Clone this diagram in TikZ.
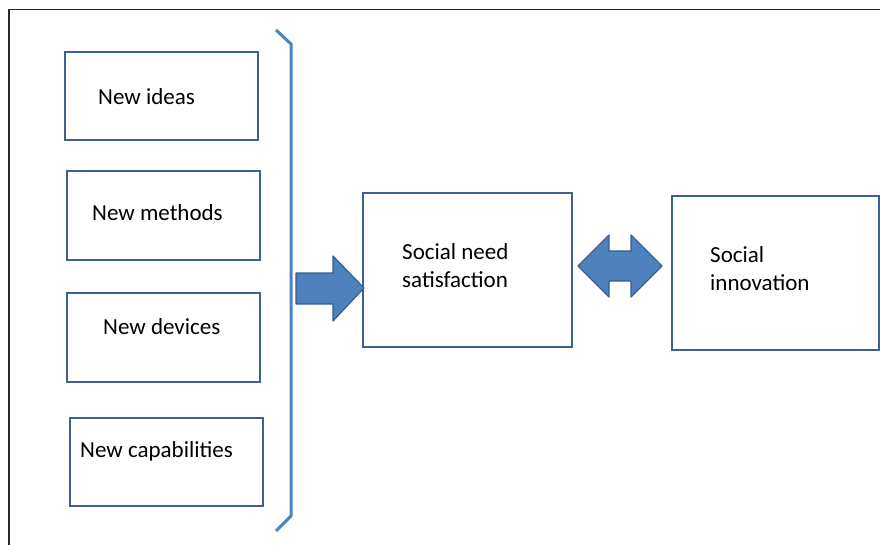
\documentclass[tikz,border=0pt]{standalone}
\usepackage{fontspec}
\setmainfont{Carlito}
\definecolor{boxblue}{RGB}{62,96,146}
\definecolor{arrowblue}{RGB}{79,129,189}
\definecolor{arrowedge}{RGB}{56,93,138}
\definecolor{framegray}{RGB}{40,40,40}

\begin{document}
\begin{tikzpicture}[x=1pt,y=-1pt,
  box/.style={draw=boxblue, line width=2.4pt, fill=white, inner sep=0pt},
  lbl/.style={anchor=west, inner sep=0pt, align=left, font=\fontsize{23}{28}\selectfont},
  blockarrow/.style={fill=arrowblue, draw=arrowedge, line width=1.2pt, line join=round},
  brace/.style={draw=arrowblue, line width=3pt}]
  \useasboundingbox (0,0) rectangle (880,545);
  \draw[framegray, line width=1.6pt] (9,545) -- (9,9.5) -- (880,9.5);
  % left column
  \node[box, minimum width=193pt, minimum height=88pt] (ideas) at (161.5,96) {};
  \node[lbl] (ideas-txt) at (98,97) {New ideas};
  \node[box, minimum width=193pt, minimum height=89pt] (methods) at (163.5,215.5) {};
  \node[lbl] (methods-txt) at (92,213) {New methods};
  \node[box, minimum width=193pt, minimum height=89pt] (devices) at (163.5,337.5) {};
  \node[lbl] (devices-txt) at (103,327) {New devices};
  \node[box, minimum width=193pt, minimum height=88pt] (capab) at (166.5,462) {};
  \node[lbl] (capab-txt) at (80,451) {New capabilities};
  \draw[brace] (276,30) -- (291,44) -- (291,516) -- (276,531);
  % right part
  \node[box, minimum width=209pt, minimum height=154pt] (need) at (467.5,270) {};
  \node[lbl] (need-txt) at (402,266) {Social need\\satisfaction};
  \node[box, minimum width=207pt, minimum height=154pt] (innov) at (775.5,273) {};
  \node[lbl] (innov-txt) at (710,269) {Social\\innovation};
  \filldraw[blockarrow] (296,273) -- (333,273) -- (333,256) -- (364,288)
    -- (333,321) -- (333,304) -- (296,304) -- cycle;
  \filldraw[blockarrow] (578,266) -- (609,235) -- (609,251) -- (631,251)
    -- (631,235) -- (662,266) -- (631,297) -- (631,281) -- (609,281)
    -- (609,297) -- cycle;
\end{tikzpicture}
\end{document}
